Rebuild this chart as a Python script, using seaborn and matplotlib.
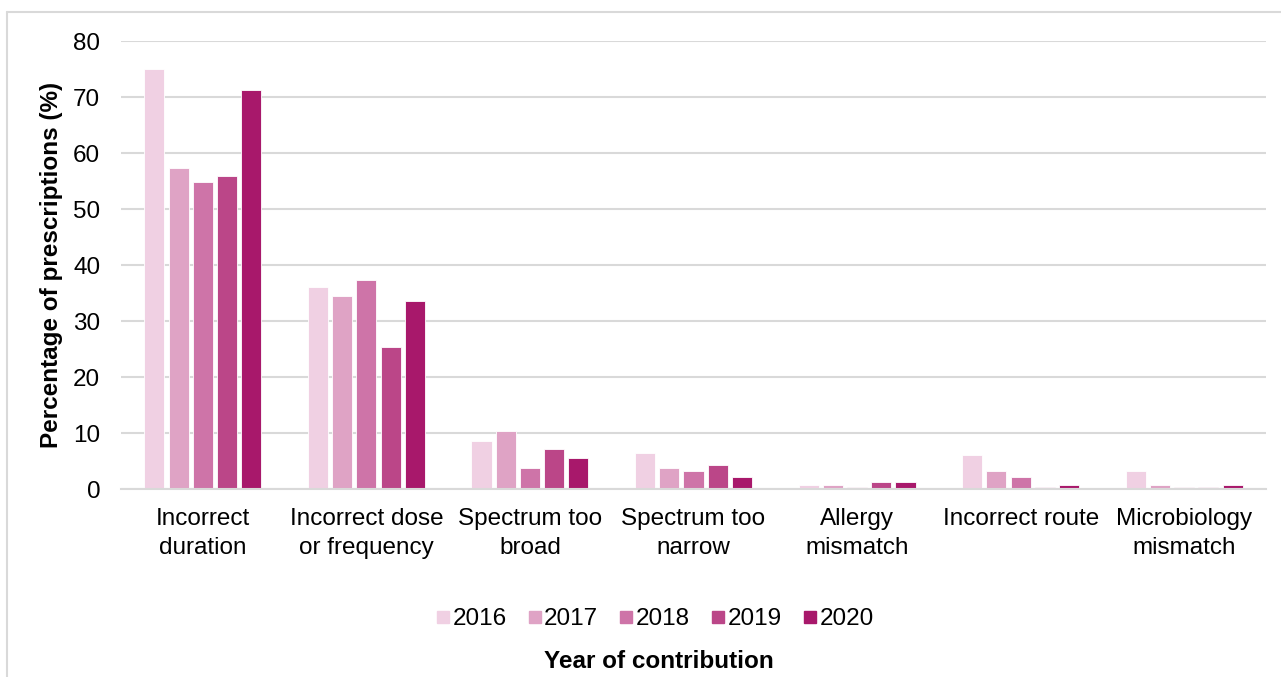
import matplotlib
matplotlib.use("Agg")
import matplotlib.pyplot as plt
import pandas as pd
import seaborn as sns
from matplotlib.lines import Line2D

# --- data ---
categories = [
    "Incorrect\nduration",
    "Incorrect dose\nor frequency",
    "Spectrum too\nbroad",
    "Spectrum too\nnarrow",
    "Allergy\nmismatch",
    "Incorrect route",
    "Microbiology\nmismatch",
]
years = ["2016", "2017", "2018", "2019", "2020"]
pct_2016 = [75.0, 36.0, 8.5, 6.5, 0.8, 6.1, 3.2]
pct_2017 = [57.3, 34.5, 10.4, 3.7, 0.8, 3.2, 0.8]
pct_2018 = [54.9, 37.3, 3.7, 3.2, 0.3, 2.2, 0.3]
pct_2019 = [55.9, 25.3, 7.1, 4.2, 1.3, 0.3, 0.3]
pct_2020 = [71.2, 33.5, 5.6, 2.2, 1.3, 0.8, 0.8]
colors = ["#F0D0E3", "#DFA3C5", "#CE74A8", "#BB4688", "#A8186B"]

series = [pct_2016, pct_2017, pct_2018, pct_2019, pct_2020]
rows = []
for year, vals in zip(years, series):
    for cat, v in zip(categories, vals):
        rows.append({"category": cat, "year": year, "pct": v})
df = pd.DataFrame(rows)

sns.set_style("white")
plt.rcParams["font.family"] = ["Liberation Sans", "DejaVu Sans"]
plt.rcParams["text.color"] = "black"
plt.rcParams["xtick.color"] = "black"
plt.rcParams["ytick.color"] = "black"
plt.rcParams["axes.labelcolor"] = "black"
FS = 17.5

fig = plt.figure(figsize=(12.81, 6.77), dpi=100)
ax = fig.add_axes([121 / 1281, 1 - 489 / 677, (1266 - 121) / 1281, (489 - 41) / 677])

sns.barplot(
    data=df, x="category", y="pct", hue="year", order=categories,
    hue_order=years, palette=colors, saturation=1, width=0.74, gap=0.17,
    edgecolor="white", linewidth=0.6, legend=False, ax=ax,
)

ax.set_ylim(0, 80)
ax.set_xlim(-0.5, len(categories) - 0.5)
ax.set_yticks(range(0, 81, 10))
ax.set_xticks(range(len(categories)), labels=categories, linespacing=1.38)
ax.yaxis.grid(True, color="#D9D9D9", linewidth=1.5)
ax.set_axisbelow(True)
for side in ["top", "right", "left"]:
    ax.spines[side].set_visible(False)
ax.spines["bottom"].set_color("#D9D9D9")
ax.spines["bottom"].set_linewidth(1.5)
ax.tick_params(axis="y", length=0, pad=15, labelsize=FS)
ax.tick_params(axis="x", length=0, pad=14, labelsize=FS)
ax.set_xlabel("")
ax.set_ylabel("Percentage of prescriptions (%)", fontsize=FS, fontweight="bold")
ax.yaxis.set_label_coords(-0.051, 0.5)

handles = [
    Line2D([], [], marker="s", linestyle="", markersize=9,
           markerfacecolor=c, markeredgecolor=c)
    for c in colors
]
fig.legend(
    handles, years, loc="center", bbox_to_anchor=(0.511, 1 - 619 / 677),
    ncol=5, frameon=False, fontsize=FS, handlelength=0.6,
    handletextpad=0.1, columnspacing=0.85,
)
fig.text(0.514, 1 - 661 / 677, "Year of contribution", ha="center", va="center",
         fontsize=FS, fontweight="bold")

# light frame around the chart (only top and left edges visible)
fig.add_artist(Line2D([7 / 1281, 7 / 1281], [0, 1 - 12 / 677],
                      transform=fig.transFigure, color="#D9D9D9", linewidth=1.5))
fig.add_artist(Line2D([7 / 1281, 1], [1 - 12 / 677, 1 - 12 / 677],
                      transform=fig.transFigure, color="#D9D9D9", linewidth=1.5))

fig.savefig("out.png", dpi=100)
